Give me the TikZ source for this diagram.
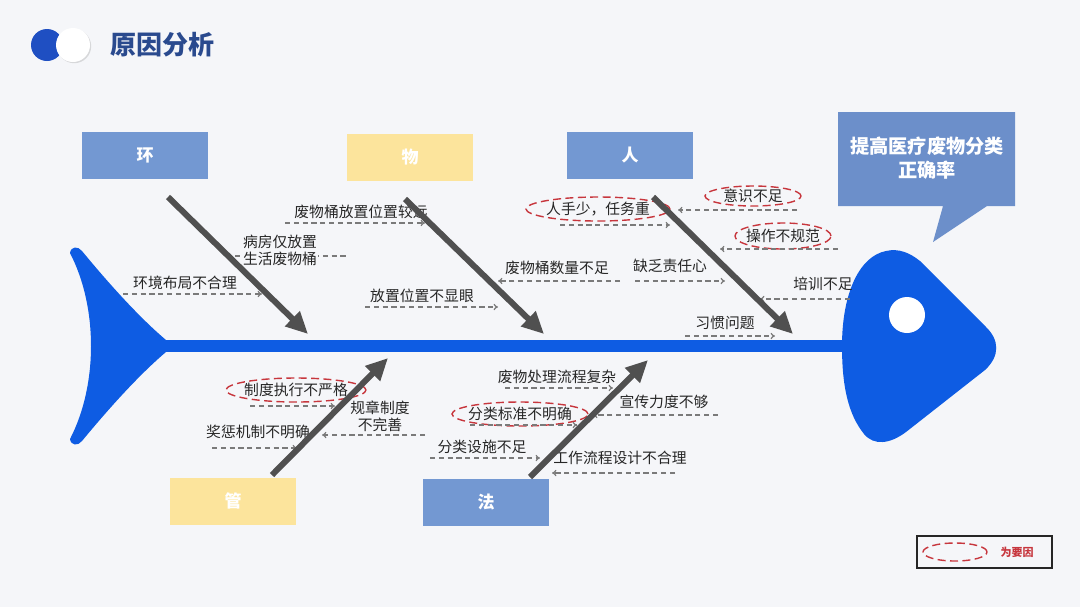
\documentclass[tikz,border=0pt]{standalone}
\usepackage{fontspec}
\setmainfont{Noto Sans CJK SC}
\usetikzlibrary{arrows.meta,shapes.geometric,shadows}
\definecolor{bgc}{HTML}{F5F6F9}
\definecolor{fishblue}{HTML}{0E5CE3}
\definecolor{boxblue}{HTML}{7398D2}
\definecolor{boxyellow}{HTML}{FCE49C}
\definecolor{bubblec}{HTML}{6C8FCA}
\definecolor{bonec}{HTML}{505050}
\definecolor{dashc}{HTML}{7A7A7A}
\definecolor{redc}{HTML}{C7363D}
\definecolor{titlec}{HTML}{2A4A8E}
\definecolor{togglec}{HTML}{1F4FC2}
\definecolor{txtc}{HTML}{262626}
\tikzset{
  catbox/.style={minimum width=63pt,minimum height=23.5pt,inner sep=0pt,text=white,font=\fontsize{8.5}{10}\selectfont\bfseries},
  bone/.style={bonec,line width=3pt,-{Triangle[length=11pt,width=10pt]}},
  lbl/.style={inner sep=0.5pt,text=txtc,font=\fontsize{7.4}{8.6}\selectfont,align=center},
  dasharr/.style={dashc,line width=0.6pt,dash pattern=on 2.6pt off 1.8pt,-{To[length=2.2pt,width=3.2pt]}},
  dashline/.style={dashc,line width=0.6pt,dash pattern=on 2.6pt off 1.8pt},
  keyring/.style={redc,line width=0.7pt,dash pattern=on 4pt off 2.2pt}
}
\begin{document}
\begin{tikzpicture}[x=0.5pt,y=-0.5pt]
\useasboundingbox (0,0) rectangle (1080,607);
\fill[bgc] (0,0) rectangle (1080,607);

% title
\fill[togglec] (47,45) circle[radius=8pt];
\fill[white,drop shadow={opacity=0.25,shadow xshift=0.6pt,shadow yshift=-0.6pt}] (73,45) circle[radius=8.5pt];
\node[text=titlec,font=\fontsize{13}{15}\selectfont\bfseries] (title) at (162,45) {原因分析};

% fish spine, tail, head
\fill[fishblue] (150,340) rectangle (855,352);
\fill[fishblue] (70,253) .. controls (71,246) and (78,246) .. (82,251)
  .. controls (110,285) and (140,318) .. (166,340) -- (166,352)
  .. controls (140,374) and (110,407) .. (82,441)
  .. controls (78,446) and (71,446) .. (70,439)
  .. controls (98,385) and (98,307) .. (70,253) -- cycle;
\fill[fishblue] (842,346) .. controls (842,292) and (860,256) .. (886,251) .. controls (899,248) and (910,253) .. (920,261) -- (985,326) .. controls (1000,340) and (1000,356) .. (985,370) -- (906,432) .. controls (890,444) and (874,446) .. (864,434) .. controls (848,414) and (842,386) .. (842,346) -- cycle;
\fill[white] (907,315) circle[radius=9pt];

% goal bubble
\fill[bubblec] (838,112) -- (1015,112) -- (1015,206) -- (987,206) -- (933,242) -- (943,206) -- (838,206) -- cycle;
\node[text=white,font=\fontsize{9.6}{12}\selectfont\bfseries,align=center] (goal) at (927,158) {提高医疗废物分类\\正确率};

% category boxes
\node[catbox,fill=boxblue] (huan) at (145,155) {环};
\node[catbox,fill=boxyellow] (wu) at (410,157) {物};
\node[catbox,fill=boxblue] (ren) at (630,155) {人};
\node[catbox,fill=boxyellow] (guan) at (233,501) {管};
\node[catbox,fill=boxblue] (fa) at (486,502) {法};

% dashed line behind two-line label
\draw[dashline] (226,256) coordinate (d2s) -- (347,256) coordinate (d2e);

% labels
\node[lbl] (l1) at (361,212) {废物桶放置位置较远};
\node[lbl,fill=bgc] (l2) at (280,250) {病房仅放置\\生活废物桶};
\node[lbl] (l3) at (185,283) {环境布局不合理};
\node[lbl] (l4) at (422,296) {放置位置不显眼};
\node[lbl] (l5) at (598,209) {人手少，任务重};
\node[lbl] (l6) at (753,196) {意识不足};
\node[lbl] (l7) at (783,236) {操作不规范};
\node[lbl] (l8) at (557,268) {废物桶数量不足};
\node[lbl] (l9) at (670,266) {缺乏责任心};
\node[lbl] (l10) at (823,284) {培训不足};
\node[lbl] (l11) at (725,323) {习惯问题};
\node[lbl] (l12) at (296,390) {制度执行不严格};
\node[lbl] (l13) at (380,416) {规章制度\\不完善};
\node[lbl] (l14) at (258,432) {奖惩机制不明确};
\node[lbl] (l15) at (482,447) {分类设施不足};
\node[lbl] (l16) at (557,377) {废物处理流程复杂};
\node[lbl] (l17) at (520,414) {分类标准不明确};
\node[lbl] (l18) at (664,402) {宣传力度不够};
\node[lbl] (l19) at (620,458) {工作流程设计不合理};

% key-cause rings
\draw[keyring] (l5.center) ellipse[x radius=36pt,y radius=6pt];
\draw[keyring] (l6.center) ellipse[x radius=24pt,y radius=5pt];
\draw[keyring] (l7.center) ellipse[x radius=24pt,y radius=6.5pt];
\draw[keyring] (l12.center) ellipse[x radius=35pt,y radius=6pt];
\draw[keyring] (l17.center) ellipse[x radius=34pt,y radius=6pt];

% dashed arrows
\draw[dasharr] (285,223) coordinate (a1s) -- (425,223) coordinate (a1e);
\draw[dasharr] (123,294) coordinate (a3s) -- (262,294) coordinate (a3e);
\draw[dasharr] (365,307) coordinate (a4s) -- (498,307) coordinate (a4e);
\draw[dasharr] (560,225) coordinate (a5s) -- (670,225) coordinate (a5e);
\draw[dasharr] (797,210) coordinate (a6s) -- (678,210) coordinate (a6e);
\draw[dasharr] (838,249) coordinate (a7s) -- (720,249) coordinate (a7e);
\draw[dasharr] (620,281) coordinate (a8s) -- (498,281) coordinate (a8e);
\draw[dasharr] (635,281) coordinate (a9s) -- (725,281) coordinate (a9e);
\draw[dasharr] (850,299) coordinate (a10s) -- (760,299) coordinate (a10e);
\draw[dasharr] (685,336) coordinate (a11s) -- (775,336) coordinate (a11e);
\draw[dasharr] (250,406) coordinate (a12s) -- (335,406) coordinate (a12e);
\draw[dasharr] (425,435) coordinate (a13s) -- (322,435) coordinate (a13e);
\draw[dasharr] (212,448) coordinate (a14s) -- (297,448) coordinate (a14e);
\draw[dasharr] (430,458) coordinate (a15s) -- (540,458) coordinate (a15e);
\draw[dasharr] (505,388) coordinate (a16s) -- (613,388) coordinate (a16e);
\draw[dasharr] (470,425) coordinate (a17s) -- (577,425) coordinate (a17e);
\draw[dasharr] (718,415) coordinate (a18s) -- (593,415) coordinate (a18e);
\draw[dasharr] (675,473) coordinate (a19s) -- (552,473) coordinate (a19e);

% main bones
\coordinate (bh1) at (168,197); \coordinate (bh2) at (308,334);
\coordinate (bw1) at (405,199); \coordinate (bw2) at (544,334);
\coordinate (br1) at (653,197); \coordinate (br2) at (793,334);
\coordinate (bg1) at (272,475); \coordinate (bg2) at (388,358);
\coordinate (bf1) at (530,477); \coordinate (bf2) at (648,360);
\draw[bone] (bh1) -- (bh2);
\draw[bone] (bw1) -- (bw2);
\draw[bone] (br1) -- (br2);
\draw[bone] (bg1) -- (bg2);
\draw[bone] (bf1) -- (bf2);

% legend
\draw[black!85,line width=1.2pt] (917,536) rectangle (1052,568);
\draw[keyring] (955,552) ellipse[x radius=16pt,y radius=4.5pt];
\node[text=redc,font=\fontsize{5.5}{6.5}\selectfont\bfseries] (legtxt) at (1017,552) {为要因};
\end{tikzpicture}
\end{document}
